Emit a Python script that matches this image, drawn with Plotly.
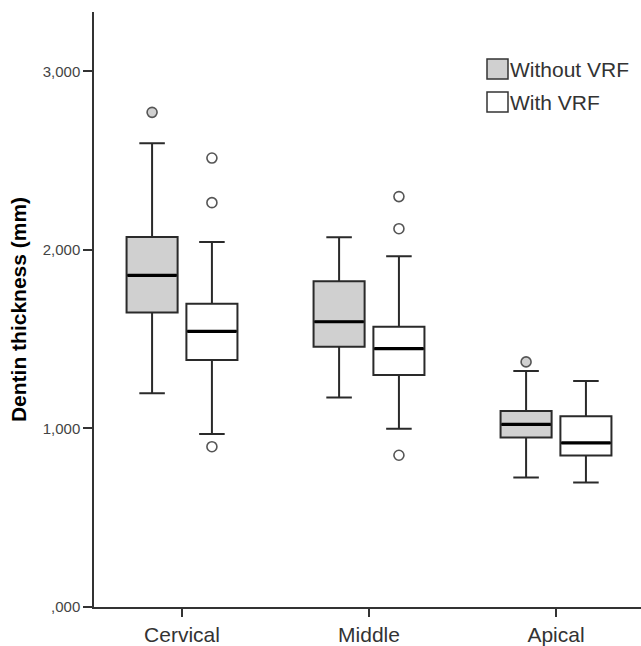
import plotly.graph_objects as go

categories = ["Cervical", "Middle", "Apical"]
series_names = ["Without VRF", "With VRF"]

# precomputed box statistics per series (Cervical, Middle, Apical)
without_lower = [1197, 1173, 725]
without_q1 = [1649, 1458, 949]
without_median = [1858, 1598, 1023]
without_q3 = [2073, 1825, 1098]
without_upper = [2598, 2071, 1322]
without_outliers = [[2771], [], [1373]]

with_lower = [969, 999, 697]
with_q1 = [1384, 1300, 848]
with_median = [1544, 1447, 919]
with_q3 = [1699, 1570, 1068]
with_upper = [2045, 1965, 1266]
with_outliers = [[2515, 2265, 898], [2299, 2119, 850], []]

y_ticks = [0, 1000, 2000, 3000]
y_ticktext = [",000", "1,000", "2,000", "3,000"]

offset = 0.16
boxw = 0.273
fills = ["#d0d0d0", "#ffffff"]
series = [
    (without_lower, without_q1, without_median, without_q3, without_upper, without_outliers),
    (with_lower, with_q1, with_median, with_q3, with_upper, with_outliers),
]

W, H = 641, 646
ML, MR, MT, MB = 94, 0, 12, 39
PW, PH = W - ML - MR, H - MT - MB

fig = go.Figure()
idx = list(range(len(categories)))
for s, (lo, q1, med, q3, up, outl) in enumerate(series):
    sign = -1 if s == 0 else 1
    xs = [i + sign * offset for i in idx]
    fig.add_trace(go.Box(
        name=series_names[s], x=xs, q1=q1, median=med, q3=q3,
        lowerfence=lo, upperfence=up, width=boxw, whiskerwidth=0.5,
        fillcolor=fills[s], line=dict(color="#2a2a2a", width=2),
        boxpoints=False, showlegend=False, hoverinfo="skip",
    ))
    # thicker median lines
    mx, my = [], []
    for x, m in zip(xs, med):
        mx += [x - boxw / 2 + 0.005, x + boxw / 2 - 0.005, None]
        my += [m, m, None]
    fig.add_trace(go.Scatter(x=mx, y=my, mode="lines",
                             line=dict(color="#000000", width=3.2),
                             showlegend=False, hoverinfo="skip"))
    # outliers
    ox, oy = [], []
    for x, pts in zip(xs, outl):
        for p in pts:
            ox.append(x)
            oy.append(p)
    fig.add_trace(go.Scatter(x=ox, y=oy, mode="markers",
                             marker=dict(size=10, color=fills[s],
                                         line=dict(color="#555555", width=1.6)),
                             showlegend=False, hoverinfo="skip"))

# legend drawn as swatches + text (pixel positions converted to paper coords)
def px(fx):
    return (fx - ML) / PW

def py(fy):
    return 1 - (fy - MT) / PH

legend_rows = [59, 92]
for s, top in enumerate(legend_rows):
    fig.add_shape(type="rect", xref="paper", yref="paper",
                  x0=px(487), x1=px(508), y0=py(top + 20), y1=py(top),
                  fillcolor=fills[s], line=dict(color="#333333", width=1.5))
    fig.add_annotation(xref="paper", yref="paper", x=px(508), y=py(top + 10.5),
                       xanchor="left", yanchor="middle", showarrow=False,
                       text=series_names[s],
                       font=dict(size=21, color="#333333"))

fig.update_layout(
    width=W, height=H,
    margin=dict(l=ML, r=MR, t=MT, b=MB, autoexpand=False),
    paper_bgcolor="white", plot_bgcolor="white",
    font=dict(family="Liberation Sans, Arial, sans-serif", color="#333333"),
    showlegend=False,
    xaxis=dict(range=[-0.4706, 2.4545], tickmode="array", tickvals=idx,
               ticktext=categories, showline=True, linecolor="#333333",
               linewidth=1.5, ticks="outside", ticklen=8, tickcolor="#333333",
               tickwidth=1.5, showgrid=False, zeroline=False,
               tickfont=dict(size=21, color="#333333")),
    yaxis=dict(range=[0, 3333], tickmode="array", tickvals=y_ticks,
               ticktext=y_ticktext, showline=True, linecolor="#333333",
               linewidth=1.5, ticks="outside", ticklen=9, tickcolor="#333333",
               tickwidth=1.5, showgrid=False, zeroline=False,
               tickfont=dict(size=15, color="#444444"),
               title=dict(text="<b>Dentin thickness (mm)</b>",
                          font=dict(size=21, color="#000000"), standoff=10)),
)

fig.write_html("out.html", config={"displayModeBar": False},
               post_script="document.body.style.margin='0';document.body.style.overflow='hidden';")
